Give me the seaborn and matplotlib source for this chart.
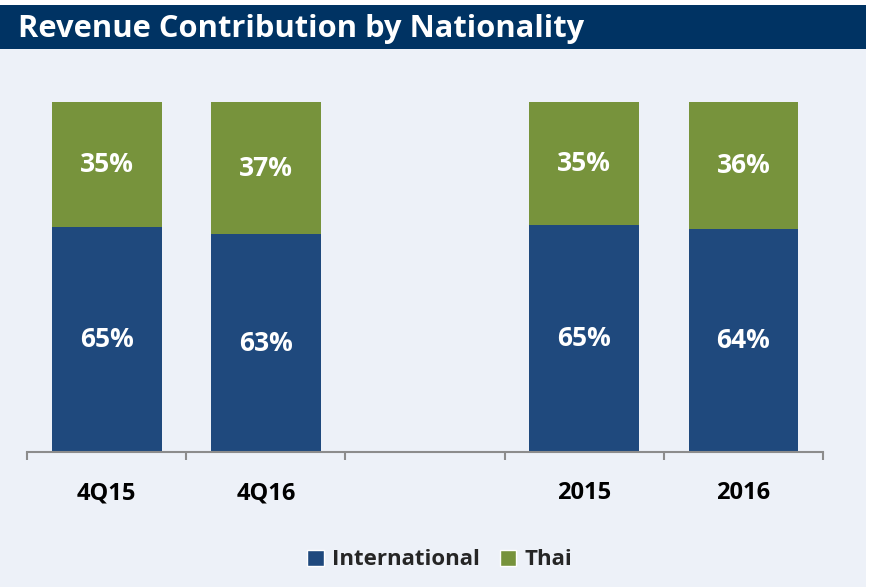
import numpy as np
import pandas as pd
import seaborn as sns
import matplotlib.pyplot as plt
from matplotlib.patches import Rectangle, Patch

# data
periods = ["4Q15", "4Q16", "", "2015", "2016"]
bar_periods = ["4Q15", "4Q16", "2015", "2016"]
international = [64.3, 62.3, 64.9, 63.7]
thai = [35.7, 37.7, 35.1, 36.3]
intl_labels = ["65%", "63%", "65%", "64%"]
thai_labels = ["35%", "37%", "35%", "36%"]

BLUE = "#1F497D"
GREEN = "#77933C"
BG = "#EDF1F8"
NAVY = "#003363"

sns.set_theme(style="white")
plt.rcParams["font.family"] = ["Open Sans", "DejaVu Sans"]

df = pd.DataFrame({"period": bar_periods,
                   "International": international,
                   "Thai": thai})
df["total"] = df["International"] + df["Thai"]

fig = plt.figure(figsize=(8.69, 5.87), dpi=100, facecolor="white")
fig.patches.append(Rectangle((0, 0), 0.9965, 0.9165, transform=fig.transFigure,
                             facecolor=BG, edgecolor="none", zorder=-2))
fig.patches.append(Rectangle((0, 0.9165), 0.9965, 0.075, transform=fig.transFigure,
                             facecolor=NAVY, edgecolor="none", zorder=-1))
fig.text(0.021, 0.951, "Revenue Contribution by Nationality", color="white",
         fontsize=22.2, fontweight="bold", va="center", ha="left")

ax = fig.add_axes([0.0311, 0.230, 0.916, 0.596])
ax.set_facecolor("none")

# stacked: total first (green), international over it (blue)
sns.barplot(data=df, x="period", y="total", order=periods, color=GREEN,
            width=0.69, saturation=1, linewidth=0, ax=ax)
sns.barplot(data=df, x="period", y="International", order=periods, color=BLUE,
            width=0.69, saturation=1, linewidth=0, ax=ax)

pos = [periods.index(p) for p in bar_periods]
for i, x in enumerate(pos):
    ax.text(x, international[i] / 2, intl_labels[i], ha="center", va="center",
            color="white", fontsize=19, fontweight="bold")
    ax.text(x, international[i] + thai[i] / 2, thai_labels[i], ha="center",
            va="center", color="white", fontsize=19, fontweight="bold")

ax.set_xlim(-0.5, 4.5)
ax.set_ylim(0, 100)
ax.set_xlabel("")
ax.set_ylabel("")
ax.set_yticks([])
ax.set_xticks(range(len(periods)))
ax.set_xticklabels(periods, fontsize=17, fontweight="bold", color="black")
ax.tick_params(axis="x", which="major", length=0, pad=21)
ax.set_xticks(np.arange(-0.5, 5, 1), minor=True)
ax.tick_params(axis="x", which="minor", bottom=True, length=6, width=1.5,
               color="#8C8C8C", direction="out")
for s in ["top", "right", "left"]:
    ax.spines[s].set_visible(False)
ax.spines["bottom"].set_color("#8C8C8C")
ax.spines["bottom"].set_linewidth(1.5)

handles = [Patch(facecolor=BLUE, label="International"),
           Patch(facecolor=GREEN, label="Thai")]
fig.legend(handles=handles, loc="center", bbox_to_anchor=(0.506, 0.046), ncol=2,
           frameon=False, handlelength=0.75, handleheight=0.75, handletextpad=0.35,
           columnspacing=0.9, prop={"weight": "bold", "size": 16})

fig.savefig("out.png", dpi=100, facecolor=fig.get_facecolor())
